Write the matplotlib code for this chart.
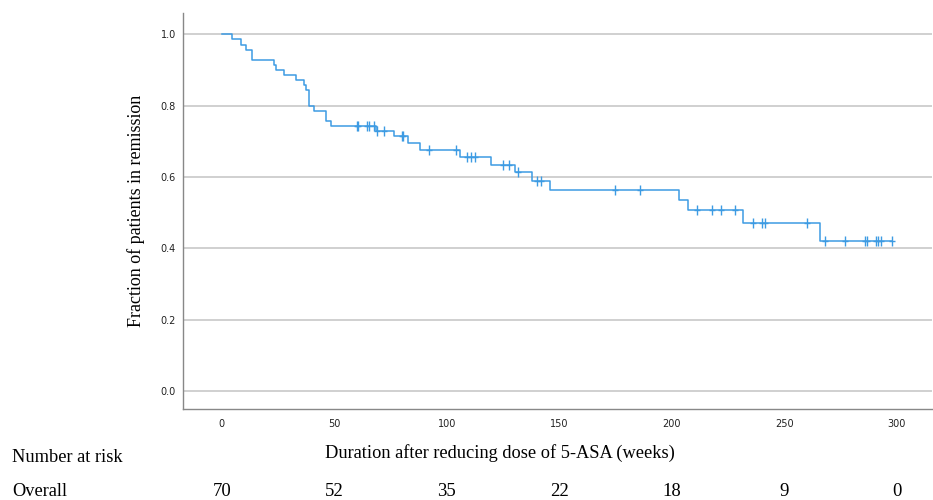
import matplotlib
matplotlib.use("Agg")
import matplotlib.pyplot as plt
import numpy as np

# Event times (weeks) and the survival level reached after each drop
event_times = [4.7, 8.4, 10.7, 13.6, 23.2, 24.0, 27.7, 32.8, 36.5, 37.6, 38.7,
               41.0, 46.2, 48.4, 68.4, 76.5, 82.9, 88.0, 105.8, 119.7, 130.5,
               137.9, 146.0, 203.0, 207.0, 231.8, 265.9]
survival_levels = [0.986, 0.971, 0.957, 0.929, 0.914, 0.900, 0.886, 0.871,
                   0.857, 0.843, 0.800, 0.786, 0.757, 0.743, 0.729, 0.714,
                   0.695, 0.675, 0.655, 0.635, 0.614, 0.589, 0.563, 0.535,
                   0.507, 0.470, 0.420]
censor_times = [59.9, 60.7, 64.7, 65.4, 67.6, 69.1, 72.0, 79.9, 80.6, 92.0,
                103.9, 109.0, 110.8, 112.7, 125.0, 127.5, 131.5, 140.1, 141.9,
                174.9, 186.0, 211.0, 217.8, 221.8, 228.1, 236.0, 240.0, 241.5,
                260.0, 268.1, 277.0, 285.8, 286.6, 290.7, 291.7, 292.8, 298.0]
last_time = 298.0

x_ticks = [0, 50, 100, 150, 200, 250, 300]
y_ticks = [0.0, 0.2, 0.4, 0.6, 0.8, 1.0]
at_risk = [70, 52, 35, 22, 18, 9, 0]

line_color = "#3d9be3"

fig = plt.figure(figsize=(9.33, 5.0), dpi=100)
ax = fig.add_axes([183 / 933, 1 - 409 / 500, (932 - 183) / 933, (409 - 13) / 500])

# step function
t = np.array([0.0] + event_times + [last_time])
s = np.array([1.0] + survival_levels + [survival_levels[-1]])
ax.step(t, s, where="post", color=line_color, lw=1.1, zorder=3)

# censor marks
def surv_at(x):
    idx = np.searchsorted(np.array(event_times), x, side="right")
    return 1.0 if idx == 0 else survival_levels[idx - 1]

cy = [surv_at(c) for c in censor_times]
ax.plot(censor_times, cy, linestyle="none", marker="|", markersize=7,
        markeredgewidth=1.0, color=line_color, zorder=4)
ax.plot(censor_times, cy, linestyle="none", marker="_", markersize=5,
        markeredgewidth=1.0, color=line_color, zorder=4)

ax.set_xlim(-17.2, 315.6)
ax.set_ylim(-0.05, 1.06)
ax.set_xticks(x_ticks)
ax.set_yticks(y_ticks)
ax.set_xticklabels([str(v) for v in x_ticks], fontsize=7, color="#222222")
ax.set_yticklabels([f"{v:.1f}" for v in y_ticks], fontsize=7, color="#222222")
ax.tick_params(axis="both", length=0)
ax.tick_params(axis="x", pad=7)
ax.tick_params(axis="y", pad=5)
ax.grid(axis="y", color="#c8c8c8", lw=1.2)
ax.set_axisbelow(True)
for side in ["top", "right"]:
    ax.spines[side].set_visible(False)
for side in ["left", "bottom"]:
    ax.spines[side].set_color("#888888")
    ax.spines[side].set_linewidth(1.0)

serif = "Liberation Serif"
ax.set_ylabel("Fraction of patients in remission", family=serif, fontsize=13,
              labelpad=11)
fig.text(500 / 933, 1 - 453 / 500, "Duration after reducing dose of 5-ASA (weeks)",
         family=serif, fontsize=13.2, ha="center", va="center")
fig.text(12 / 933, 1 - 458 / 500, "Number at risk", family=serif, fontsize=13.2,
         ha="left", va="center")
fig.text(12 / 933, 1 - 492 / 500, "Overall", family=serif, fontsize=13.2,
         ha="left", va="center")
for xv, n in zip(x_ticks, at_risk):
    xf = ax.transData.transform((xv, 0))[0]
    xf = fig.transFigure.inverted().transform((xf, 0))[0]
    fig.text(xf, 1 - 492 / 500, str(n), family=serif, fontsize=13.5,
             ha="center", va="center")

fig.savefig("out.png", dpi=100)
